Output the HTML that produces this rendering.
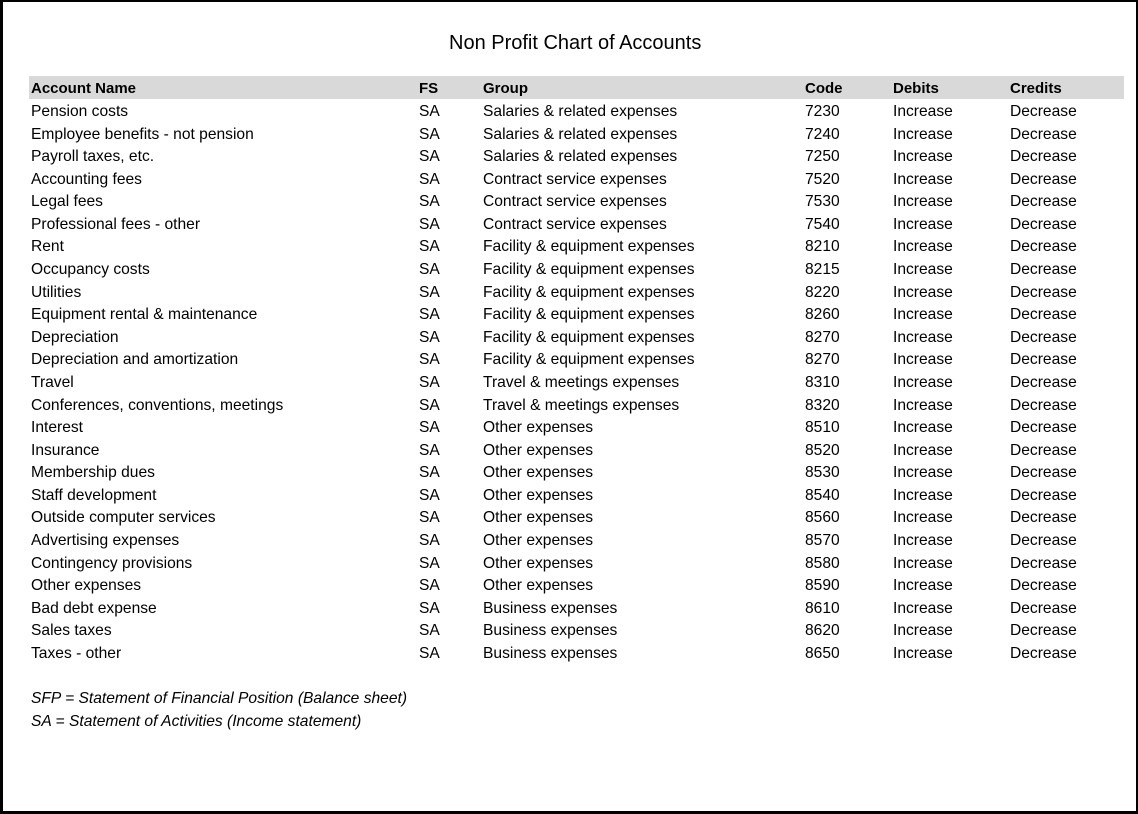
<!DOCTYPE html>
<html>
<head>
<meta charset="utf-8">
<style>
  html, body { margin: 0; padding: 0; }
  body { width: 1138px; height: 814px; position: relative; overflow: hidden; background: #fff;
         font-family: "Liberation Sans", Arial, sans-serif; color: #000; }
  .frame { position: absolute; left: 0; top: 0; width: 1138px; height: 814px; box-sizing: border-box;
           border-left: 3px solid #000; border-top: 2px solid #000; border-right: 2px solid #000; border-bottom: 3px solid #000; }
  .title { position: absolute; left: 449px; top: 33px; font-size: 20px; line-height: 20px; white-space: nowrap; }
  .hdr { position: absolute; left: 29px; top: 76px; width: 1095px; height: 23.3px; background: #d9d9d9; }
  .row { position: absolute; left: 0; width: 1138px; height: 22.58px; line-height: 22.58px; font-size: 15.6px; white-space: nowrap; }
  .row span { position: absolute; top: 0; }
  .hrow { top: 77px; height: 23.3px; line-height: 23.3px; font-weight: bold; font-size: 15px; }
  .c1 { left: 31px; } .c2 { left: 419px; } .c3 { left: 483px; } .c4 { left: 805px; } .c5 { left: 893px; } .c6 { left: 1010px; }
  .it { font-style: italic; }
  .body { position: absolute; left: 0; top: 1.5px; width: 1138px; height: 800px; }
</style>
</head>
<body>
<div class="frame"></div>
<div class="title">Non Profit Chart of Accounts</div>
<div class="hdr"></div>
<div class="row hrow"><span class="c1">Account Name</span><span class="c2">FS</span><span class="c3">Group</span><span class="c4">Code</span><span class="c5">Debits</span><span class="c6">Credits</span></div>

<div class="body">
<div class="row" style="top:99.5px"><span class="c1">Pension costs</span><span class="c2">SA</span><span class="c3">Salaries &amp; related expenses</span><span class="c4">7230</span><span class="c5">Increase</span><span class="c6">Decrease</span></div>
<div class="row" style="top:122.08px"><span class="c1">Employee benefits - not pension</span><span class="c2">SA</span><span class="c3">Salaries &amp; related expenses</span><span class="c4">7240</span><span class="c5">Increase</span><span class="c6">Decrease</span></div>
<div class="row" style="top:144.66px"><span class="c1">Payroll taxes, etc.</span><span class="c2">SA</span><span class="c3">Salaries &amp; related expenses</span><span class="c4">7250</span><span class="c5">Increase</span><span class="c6">Decrease</span></div>
<div class="row" style="top:167.24px"><span class="c1">Accounting fees</span><span class="c2">SA</span><span class="c3">Contract service expenses</span><span class="c4">7520</span><span class="c5">Increase</span><span class="c6">Decrease</span></div>
<div class="row" style="top:189.82px"><span class="c1">Legal fees</span><span class="c2">SA</span><span class="c3">Contract service expenses</span><span class="c4">7530</span><span class="c5">Increase</span><span class="c6">Decrease</span></div>
<div class="row" style="top:212.4px"><span class="c1">Professional fees - other</span><span class="c2">SA</span><span class="c3">Contract service expenses</span><span class="c4">7540</span><span class="c5">Increase</span><span class="c6">Decrease</span></div>
<div class="row" style="top:234.98px"><span class="c1">Rent</span><span class="c2">SA</span><span class="c3">Facility &amp; equipment expenses</span><span class="c4">8210</span><span class="c5">Increase</span><span class="c6">Decrease</span></div>
<div class="row" style="top:257.56px"><span class="c1">Occupancy costs</span><span class="c2">SA</span><span class="c3">Facility &amp; equipment expenses</span><span class="c4">8215</span><span class="c5">Increase</span><span class="c6">Decrease</span></div>
<div class="row" style="top:280.14px"><span class="c1">Utilities</span><span class="c2">SA</span><span class="c3">Facility &amp; equipment expenses</span><span class="c4">8220</span><span class="c5">Increase</span><span class="c6">Decrease</span></div>
<div class="row" style="top:302.72px"><span class="c1">Equipment rental &amp; maintenance</span><span class="c2">SA</span><span class="c3">Facility &amp; equipment expenses</span><span class="c4">8260</span><span class="c5">Increase</span><span class="c6">Decrease</span></div>
<div class="row" style="top:325.3px"><span class="c1">Depreciation</span><span class="c2">SA</span><span class="c3">Facility &amp; equipment expenses</span><span class="c4">8270</span><span class="c5">Increase</span><span class="c6">Decrease</span></div>
<div class="row" style="top:347.88px"><span class="c1">Depreciation and amortization</span><span class="c2">SA</span><span class="c3">Facility &amp; equipment expenses</span><span class="c4">8270</span><span class="c5">Increase</span><span class="c6">Decrease</span></div>
<div class="row" style="top:370.46px"><span class="c1">Travel</span><span class="c2">SA</span><span class="c3">Travel &amp; meetings expenses</span><span class="c4">8310</span><span class="c5">Increase</span><span class="c6">Decrease</span></div>
<div class="row" style="top:393.04px"><span class="c1">Conferences, conventions, meetings</span><span class="c2">SA</span><span class="c3">Travel &amp; meetings expenses</span><span class="c4">8320</span><span class="c5">Increase</span><span class="c6">Decrease</span></div>
<div class="row" style="top:415.62px"><span class="c1">Interest</span><span class="c2">SA</span><span class="c3">Other expenses</span><span class="c4">8510</span><span class="c5">Increase</span><span class="c6">Decrease</span></div>
<div class="row" style="top:438.2px"><span class="c1">Insurance</span><span class="c2">SA</span><span class="c3">Other expenses</span><span class="c4">8520</span><span class="c5">Increase</span><span class="c6">Decrease</span></div>
<div class="row" style="top:460.78px"><span class="c1">Membership dues</span><span class="c2">SA</span><span class="c3">Other expenses</span><span class="c4">8530</span><span class="c5">Increase</span><span class="c6">Decrease</span></div>
<div class="row" style="top:483.36px"><span class="c1">Staff development</span><span class="c2">SA</span><span class="c3">Other expenses</span><span class="c4">8540</span><span class="c5">Increase</span><span class="c6">Decrease</span></div>
<div class="row" style="top:505.94px"><span class="c1">Outside computer services</span><span class="c2">SA</span><span class="c3">Other expenses</span><span class="c4">8560</span><span class="c5">Increase</span><span class="c6">Decrease</span></div>
<div class="row" style="top:528.52px"><span class="c1">Advertising expenses</span><span class="c2">SA</span><span class="c3">Other expenses</span><span class="c4">8570</span><span class="c5">Increase</span><span class="c6">Decrease</span></div>
<div class="row" style="top:551.1px"><span class="c1">Contingency provisions</span><span class="c2">SA</span><span class="c3">Other expenses</span><span class="c4">8580</span><span class="c5">Increase</span><span class="c6">Decrease</span></div>
<div class="row" style="top:573.68px"><span class="c1">Other expenses</span><span class="c2">SA</span><span class="c3">Other expenses</span><span class="c4">8590</span><span class="c5">Increase</span><span class="c6">Decrease</span></div>
<div class="row" style="top:596.26px"><span class="c1">Bad debt expense</span><span class="c2">SA</span><span class="c3">Business expenses</span><span class="c4">8610</span><span class="c5">Increase</span><span class="c6">Decrease</span></div>
<div class="row" style="top:618.84px"><span class="c1">Sales taxes</span><span class="c2">SA</span><span class="c3">Business expenses</span><span class="c4">8620</span><span class="c5">Increase</span><span class="c6">Decrease</span></div>
<div class="row" style="top:641.42px"><span class="c1">Taxes - other</span><span class="c2">SA</span><span class="c3">Business expenses</span><span class="c4">8650</span><span class="c5">Increase</span><span class="c6">Decrease</span></div>

<div class="row it" style="top:686.58px"><span class="c1">SFP = Statement of Financial Position (Balance sheet)</span></div>
<div class="row it" style="top:709.16px"><span class="c1">SA = Statement of Activities (Income statement)</span></div>
</div>
</body>
</html>
